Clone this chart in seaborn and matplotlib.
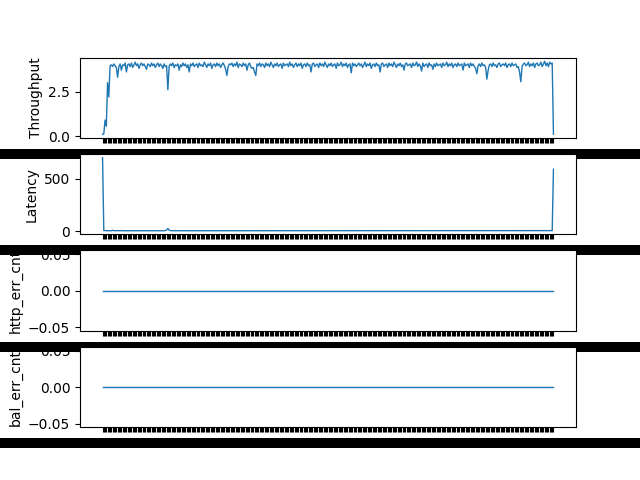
import matplotlib
matplotlib.use("Agg")
import matplotlib.pyplot as plt
import seaborn as sns
import pandas as pd

throughput = [
    0.10, 0.12, 0.90, 0.55, 3.00, 2.20, 3.95, 4.00, 3.90, 4.05, 3.95, 3.85, 3.30, 3.90, 4.05, 3.70, 4.00, 3.95, 4.10, 3.60,
    4.00, 4.05, 3.90, 4.10, 3.85, 4.00, 4.15, 3.95, 4.05, 3.80, 4.00, 4.10, 3.95, 4.05, 3.90, 3.75, 4.05, 4.00, 3.90, 4.10,
    3.95, 4.05, 3.85, 4.00, 4.10, 3.90, 4.05, 3.95, 3.80, 4.05, 3.90, 3.95, 2.60, 3.90, 4.05, 3.95, 4.10, 3.85, 4.00, 3.95,
    4.05, 3.70, 4.00, 3.90, 4.10, 3.95, 4.05, 3.85, 4.00, 3.60, 4.05, 3.95, 4.10, 3.90, 4.00, 4.05, 3.85, 4.10, 3.95, 4.00,
    3.90, 4.15, 4.00, 3.85, 4.05, 3.95, 4.10, 3.80, 4.00, 4.05, 3.90, 4.10, 3.95, 4.05, 3.85, 4.00, 4.10, 3.95, 3.75, 3.40,
    3.90, 4.05, 4.00, 4.10, 3.90, 4.05, 3.95, 4.15, 3.85, 4.05, 4.00, 3.90, 4.10, 3.95, 4.05, 3.70, 4.00, 4.10, 3.90, 3.80,
    3.85, 3.60, 3.40, 4.05, 3.95, 4.10, 3.90, 4.05, 4.00, 3.85, 4.10, 3.95, 4.05, 3.90, 4.15, 4.00, 3.85, 4.05, 3.95, 4.10,
    3.90, 4.00, 4.05, 3.80, 4.10, 3.95, 4.00, 4.05, 3.90, 4.15, 3.95, 4.05, 3.85, 4.00, 4.10, 3.90, 4.05, 3.95, 4.10, 3.80,
    4.00, 4.05, 3.90, 4.10, 3.95, 4.00, 3.60, 4.05, 4.10, 3.90, 4.00, 4.05, 3.85, 4.10, 3.95, 4.05, 3.90, 4.15, 4.00, 3.85,
    4.05, 3.95, 4.10, 3.90, 4.00, 4.05, 3.80, 4.10, 3.95, 4.00, 4.15, 3.90, 4.05, 3.95, 4.10, 3.85, 4.00, 4.05, 3.55, 4.10,
    3.95, 4.05, 3.90, 4.00, 4.10, 3.95, 4.05, 3.85, 4.00, 4.15, 3.90, 4.05, 3.95, 4.10, 3.80, 4.00, 4.05, 3.90, 4.10, 3.95,
    4.00, 3.60, 4.05, 4.10, 3.90, 4.00, 4.05, 3.85, 4.10, 3.95, 4.05, 3.90, 4.15, 4.00, 3.85, 4.05, 3.95, 4.10, 3.90, 4.00,
    3.70, 4.05, 4.10, 3.95, 4.00, 4.05, 3.85, 4.10, 3.95, 4.00, 4.15, 3.90, 4.05, 3.95, 3.65, 4.10, 3.90, 4.00, 4.05, 3.85,
    4.10, 3.95, 4.00, 3.75, 4.05, 3.90, 4.10, 3.95, 4.00, 4.05, 3.85, 4.10, 3.95, 4.00, 4.15, 3.90, 4.05, 3.95, 4.10, 3.85,
    4.00, 4.05, 3.90, 4.10, 3.95, 4.00, 4.05, 3.70, 4.10, 3.95, 4.00, 4.05, 3.85, 4.10, 3.95, 4.05, 3.90, 3.80, 3.50, 3.95,
    4.05, 3.90, 4.10, 3.95, 4.00, 3.85, 3.20, 3.70, 4.00, 4.05, 3.90, 4.10, 3.95, 4.00, 3.85, 4.05, 4.10, 3.90, 4.00, 4.05,
    3.95, 4.10, 3.85, 4.00, 4.05, 3.90, 4.10, 3.95, 4.00, 4.05, 3.85, 3.90, 3.60, 3.05, 3.90, 4.05, 4.10, 3.95, 4.00, 4.15,
    3.90, 4.05, 3.95, 4.10, 3.85, 4.05, 4.10, 3.95, 4.00, 4.15, 3.90, 4.05, 4.20, 3.95, 4.10, 3.90, 4.15, 4.05, 4.10, 0.10,
]

latency = [
    700, 6, 5, 5, 4, 4, 5, 4, 8, 5, 4, 4, 5, 4, 4, 5, 4, 4, 4, 4,
    4, 5, 4, 4, 4, 5, 4, 4, 4, 4, 5, 4, 4, 4, 4, 4, 4, 5, 4, 4,
    4, 4, 4, 4, 5, 4, 4, 4, 4, 4, 6, 10, 26, 9, 5, 4, 4, 4, 4, 4,
    4, 4, 4, 4, 4, 4, 4, 4, 4, 4, 4, 4, 4, 4, 4, 4, 4, 4, 4, 5,
    4, 4, 4, 4, 4, 4, 4, 4, 4, 4, 4, 4, 4, 4, 4, 4, 4, 4, 5, 4,
    4, 4, 4, 4, 4, 4, 4, 4, 4, 4, 4, 4, 4, 4, 4, 4, 4, 4, 4, 4,
    4, 4, 5, 4, 4, 4, 4, 4, 4, 4, 4, 4, 4, 4, 4, 4, 4, 4, 4, 4,
    4, 4, 4, 4, 4, 4, 4, 4, 4, 4, 4, 4, 4, 4, 4, 4, 4, 4, 4, 4,
    4, 4, 4, 4, 4, 4, 4, 4, 4, 4, 4, 4, 4, 4, 4, 4, 4, 4, 4, 4,
    4, 4, 4, 4, 4, 4, 4, 4, 4, 4, 4, 4, 4, 4, 4, 4, 4, 4, 4, 4,
    4, 4, 4, 4, 4, 4, 4, 4, 4, 4, 4, 4, 4, 4, 4, 4, 4, 4, 4, 4,
    4, 4, 4, 4, 4, 4, 4, 4, 4, 4, 4, 4, 4, 4, 4, 4, 4, 4, 4, 4,
    4, 4, 4, 4, 4, 4, 4, 4, 4, 4, 4, 4, 4, 4, 4, 4, 4, 4, 4, 4,
    4, 4, 4, 4, 4, 4, 4, 4, 4, 4, 4, 4, 4, 4, 4, 4, 4, 4, 4, 4,
    4, 4, 4, 4, 4, 4, 4, 4, 4, 4, 4, 4, 4, 4, 4, 4, 4, 4, 5, 4,
    4, 4, 4, 4, 4, 4, 5, 4, 4, 4, 4, 4, 4, 4, 4, 4, 4, 4, 4, 4,
    4, 4, 4, 4, 4, 4, 4, 4, 4, 4, 4, 4, 4, 5, 4, 4, 4, 4, 4, 4,
    4, 4, 4, 4, 4, 4, 4, 4, 4, 4, 4, 4, 4, 4, 4, 4, 4, 4, 5, 590,
]

http_err_cnt = [
    0, 0, 0, 0, 0, 0, 0, 0, 0, 0, 0, 0, 0, 0, 0, 0, 0, 0, 0, 0,
    0, 0, 0, 0, 0, 0, 0, 0, 0, 0, 0, 0, 0, 0, 0, 0, 0, 0, 0, 0,
    0, 0, 0, 0, 0, 0, 0, 0, 0, 0, 0, 0, 0, 0, 0, 0, 0, 0, 0, 0,
    0, 0, 0, 0, 0, 0, 0, 0, 0, 0, 0, 0, 0, 0, 0, 0, 0, 0, 0, 0,
    0, 0, 0, 0, 0, 0, 0, 0, 0, 0, 0, 0, 0, 0, 0, 0, 0, 0, 0, 0,
    0, 0, 0, 0, 0, 0, 0, 0, 0, 0, 0, 0, 0, 0, 0, 0, 0, 0, 0, 0,
    0, 0, 0, 0, 0, 0, 0, 0, 0, 0, 0, 0, 0, 0, 0, 0, 0, 0, 0, 0,
    0, 0, 0, 0, 0, 0, 0, 0, 0, 0, 0, 0, 0, 0, 0, 0, 0, 0, 0, 0,
    0, 0, 0, 0, 0, 0, 0, 0, 0, 0, 0, 0, 0, 0, 0, 0, 0, 0, 0, 0,
    0, 0, 0, 0, 0, 0, 0, 0, 0, 0, 0, 0, 0, 0, 0, 0, 0, 0, 0, 0,
    0, 0, 0, 0, 0, 0, 0, 0, 0, 0, 0, 0, 0, 0, 0, 0, 0, 0, 0, 0,
    0, 0, 0, 0, 0, 0, 0, 0, 0, 0, 0, 0, 0, 0, 0, 0, 0, 0, 0, 0,
    0, 0, 0, 0, 0, 0, 0, 0, 0, 0, 0, 0, 0, 0, 0, 0, 0, 0, 0, 0,
    0, 0, 0, 0, 0, 0, 0, 0, 0, 0, 0, 0, 0, 0, 0, 0, 0, 0, 0, 0,
    0, 0, 0, 0, 0, 0, 0, 0, 0, 0, 0, 0, 0, 0, 0, 0, 0, 0, 0, 0,
    0, 0, 0, 0, 0, 0, 0, 0, 0, 0, 0, 0, 0, 0, 0, 0, 0, 0, 0, 0,
    0, 0, 0, 0, 0, 0, 0, 0, 0, 0, 0, 0, 0, 0, 0, 0, 0, 0, 0, 0,
    0, 0, 0, 0, 0, 0, 0, 0, 0, 0, 0, 0, 0, 0, 0, 0, 0, 0, 0, 0,
]

bal_err_cnt = [
    0, 0, 0, 0, 0, 0, 0, 0, 0, 0, 0, 0, 0, 0, 0, 0, 0, 0, 0, 0,
    0, 0, 0, 0, 0, 0, 0, 0, 0, 0, 0, 0, 0, 0, 0, 0, 0, 0, 0, 0,
    0, 0, 0, 0, 0, 0, 0, 0, 0, 0, 0, 0, 0, 0, 0, 0, 0, 0, 0, 0,
    0, 0, 0, 0, 0, 0, 0, 0, 0, 0, 0, 0, 0, 0, 0, 0, 0, 0, 0, 0,
    0, 0, 0, 0, 0, 0, 0, 0, 0, 0, 0, 0, 0, 0, 0, 0, 0, 0, 0, 0,
    0, 0, 0, 0, 0, 0, 0, 0, 0, 0, 0, 0, 0, 0, 0, 0, 0, 0, 0, 0,
    0, 0, 0, 0, 0, 0, 0, 0, 0, 0, 0, 0, 0, 0, 0, 0, 0, 0, 0, 0,
    0, 0, 0, 0, 0, 0, 0, 0, 0, 0, 0, 0, 0, 0, 0, 0, 0, 0, 0, 0,
    0, 0, 0, 0, 0, 0, 0, 0, 0, 0, 0, 0, 0, 0, 0, 0, 0, 0, 0, 0,
    0, 0, 0, 0, 0, 0, 0, 0, 0, 0, 0, 0, 0, 0, 0, 0, 0, 0, 0, 0,
    0, 0, 0, 0, 0, 0, 0, 0, 0, 0, 0, 0, 0, 0, 0, 0, 0, 0, 0, 0,
    0, 0, 0, 0, 0, 0, 0, 0, 0, 0, 0, 0, 0, 0, 0, 0, 0, 0, 0, 0,
    0, 0, 0, 0, 0, 0, 0, 0, 0, 0, 0, 0, 0, 0, 0, 0, 0, 0, 0, 0,
    0, 0, 0, 0, 0, 0, 0, 0, 0, 0, 0, 0, 0, 0, 0, 0, 0, 0, 0, 0,
    0, 0, 0, 0, 0, 0, 0, 0, 0, 0, 0, 0, 0, 0, 0, 0, 0, 0, 0, 0,
    0, 0, 0, 0, 0, 0, 0, 0, 0, 0, 0, 0, 0, 0, 0, 0, 0, 0, 0, 0,
    0, 0, 0, 0, 0, 0, 0, 0, 0, 0, 0, 0, 0, 0, 0, 0, 0, 0, 0, 0,
    0, 0, 0, 0, 0, 0, 0, 0, 0, 0, 0, 0, 0, 0, 0, 0, 0, 0, 0, 0,
]

# time stamps used as (categorical) x tick labels
times = pd.date_range("2024-03-14 10:00:00.250000", periods=len(throughput), freq="10s", tz="UTC")
time_labels = [t.isoformat(sep=" ", timespec="microseconds") for t in times]

metrics = ["Throughput", "Latency", "http_err_cnt", "bal_err_cnt"]
df = pd.DataFrame({
    "time": time_labels,
    "Throughput": throughput,
    "Latency": latency,
    "http_err_cnt": http_err_cnt,
    "bal_err_cnt": bal_err_cnt,
})

fig, axes = plt.subplots(4, 1, figsize=(6.4, 4.8), dpi=100)
for ax, m in zip(axes, metrics):
    sns.lineplot(data=df, x="time", y=m, ax=ax, linewidth=1, color="#1f77b4")
    ax.set_xlabel("")
    ax.set_ylabel(m)

fig.savefig("out.png", dpi=100)
